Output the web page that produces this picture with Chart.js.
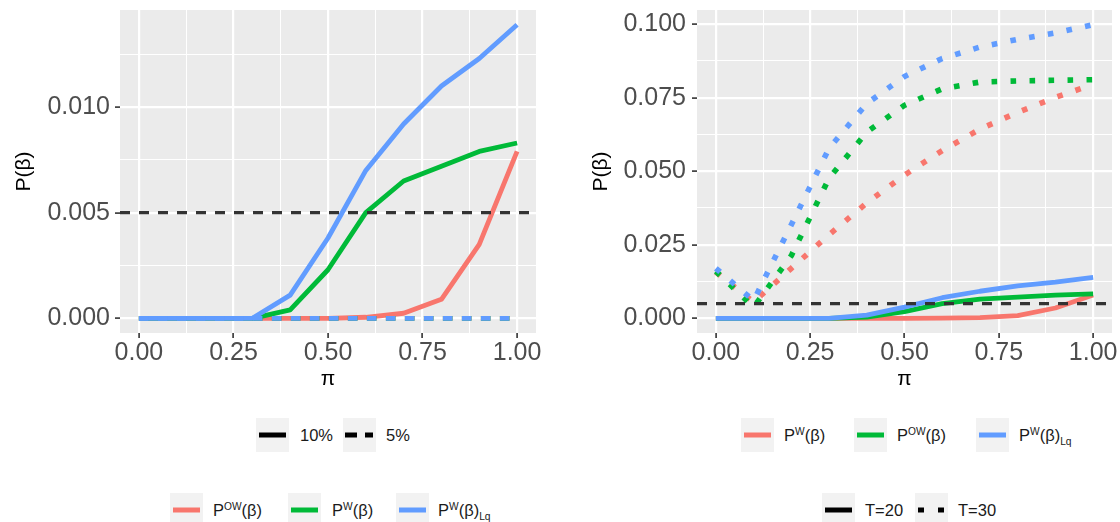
<!DOCTYPE html>
<html>
<head>
<meta charset="utf-8">
<script src="https://cdn.jsdelivr.net/npm/chart.js@4.4.1/dist/chart.umd.min.js"></script>
<style>
  body { margin: 0; background: #fff; width: 1120px; height: 522px; position: relative; overflow: hidden;
         font-family: "Liberation Sans", Arial, sans-serif; }
  canvas { position: absolute; top: 0; }
  #left { left: 0; }
  #right { left: 560px; }
  .key { position: absolute; width: 33px; height: 34px; background: #f2f2f2; }
  .key svg { display: block; }
  .lab { position: absolute; font-size: 16.5px; line-height: 20px; color: #1a1a1a; white-space: nowrap;
         transform: translateY(-50%); }
  .lab sup { font-size: 0.62em; vertical-align: 0.55em; line-height: 0; }
  .lab sub { font-size: 0.62em; vertical-align: -0.4em; line-height: 0; }
</style>
</head>
<body>
<canvas id="left" width="560" height="400"></canvas>
<canvas id="right" width="560" height="400"></canvas>
<div id="legends"></div>
<script>
// proportion of contamination
const pi = [0, 0.1, 0.2, 0.3, 0.4, 0.5, 0.6, 0.7, 0.8, 0.9, 1.0];

// left panel: nominal level 10% (solid) and 5% (dashed)
const pOW10  = [0, 0, 0, 0, 0, 0, 0.00005, 0.00024, 0.0009, 0.0035, 0.0079];
const pW10   = [0, 0, 0, 0, 0.0004, 0.0023, 0.0050, 0.0065, 0.0072, 0.0079, 0.0083];
const pWLq10 = [0, 0, 0, 0, 0.0011, 0.0038, 0.0070, 0.0092, 0.0110, 0.0123, 0.0139];
const pOW5   = [0, 0, 0, 0, 0, 0, 0, 0, 0, 0, 0];
const pW5    = [0, 0, 0, 0, 0, 0, 0, 0, 0, 0, 0];
const pWLq5  = [0, 0, 0, 0, 0, 0, 0, 0, 0, 0, 0];

// right panel: T=20 (solid) and T=30 (dotted)
const pW20   = [0, 0, 0, 0, 0, 0, 0.00005, 0.00024, 0.0009, 0.0035, 0.0079];
const pOW20  = [0, 0, 0, 0, 0.0004, 0.0023, 0.0050, 0.0065, 0.0072, 0.0079, 0.0083];
const pWLq20 = [0, 0, 0, 0, 0.0011, 0.0038, 0.0070, 0.0092, 0.0110, 0.0123, 0.0139];
const pW30   = [0.0157, 0.0055, 0.0170, 0.0284, 0.0392, 0.0487, 0.0570, 0.0643, 0.0700, 0.0751, 0.0795];
const pOW30  = [0.0160, 0.0038, 0.0213, 0.0476, 0.0633, 0.0724, 0.0780, 0.0803, 0.0807, 0.0809, 0.0811];
const pWLq30 = [0.0170, 0.0060, 0.0318, 0.0578, 0.0730, 0.0822, 0.0883, 0.0922, 0.0948, 0.0970, 0.0998];

const cutoff = 0.005;

// axis breaks
const xBreaks = [0, 0.25, 0.5, 0.75, 1];
const yBreaksLeft = [0, 0.005, 0.010];
const yBreaksRight = [0, 0.025, 0.050, 0.075, 0.100];

const RED = '#F8766D', GREEN = '#00BA38', BLUE = '#619CFF';

Chart.defaults.font.family = '"Liberation Sans", Arial, sans-serif';

// ggplot-style 5% expansion
function expand(lo, hi) {
  const d = (hi - lo) * 0.05;
  return [lo - d, hi + d];
}

// major breaks plus minor lines halfway between them
function gridTicks(breaks, lo, hi) {
  const half = (breaks[1] - breaks[0]) / 2;
  const ticks = [];
  for (let k = -1; ; k++) {
    const v = +(breaks[0] + k * half).toFixed(6);
    if (v > hi) break;
    if (v >= lo) ticks.push({ value: v, minor: k % 2 !== 0 });
  }
  return ticks;
}

const grid = {
  color: '#ffffff',
  lineWidth: c => (c.tick && c.tick.minor ? 1 : 2.2),
  drawTicks: true,
  tickLength: 5,
  tickWidth: 1.6,
  tickColor: c => (c.tick && c.tick.minor ? 'rgba(0,0,0,0)' : '#333333')
};

const panelBg = {
  id: 'panelBg',
  beforeDraw(chart) {
    const { ctx, chartArea: a } = chart;
    ctx.save();
    ctx.fillStyle = '#ebebeb';
    ctx.fillRect(a.left, a.top, a.right - a.left, a.bottom - a.top);
    ctx.restore();
  }
};

function series(values, color, dash, width) {
  return {
    data: pi.map((x, i) => ({ x, y: values[i] })),
    borderColor: color,
    borderWidth: width || 4.8,
    borderDash: dash || [],
    borderCapStyle: 'butt',
    borderJoinStyle: 'round',
    pointRadius: 0,
    tension: 0
  };
}

function panel(id, layers, yBreaks, ymax, o) {
  const xr = expand(0, 1);
  const yr = expand(0, ymax);
  const hline = {
    data: [{ x: xr[0], y: cutoff }, { x: xr[1], y: cutoff }],
    borderColor: '#333333',
    borderWidth: 3.2,
    borderDash: [10, 9],
    borderCapStyle: 'butt',
    pointRadius: 0
  };
  const datasets = layers.concat([hline]).map((d, i, arr) => Object.assign(d, { order: arr.length - i }));
  const xt = gridTicks(xBreaks, xr[0], xr[1]);
  const yt = gridTicks(yBreaks, yr[0], yr[1]);

  return new Chart(document.getElementById(id), {
    type: 'line',
    data: { datasets },
    options: {
      responsive: false,
      animation: false,
      layout: { padding: { top: 10, right: o.padRight, left: 0, bottom: 0 } },
      plugins: { legend: { display: false }, tooltip: { enabled: false } },
      scales: {
        x: {
          type: 'linear', min: xr[0], max: xr[1],
          afterBuildTicks: s => { s.ticks = xt.map(t => ({ ...t })); },
          afterFit: s => { s.height = 67; s.paddingLeft = 0; s.paddingRight = 0; },
          ticks: {
            autoSkip: false, maxRotation: 0, padding: 0, color: '#4d4d4d', font: { size: 25 },
            callback: (v, i, ts) => (ts[i].minor ? '' : v.toFixed(2))
          },
          grid, border: { display: false },
          title: { display: true, text: 'π', color: '#000', font: { size: 21 }, padding: { top: 0, bottom: 8.4 } }
        },
        y: {
          type: 'linear', min: yr[0], max: yr[1],
          afterBuildTicks: s => { s.ticks = yt.map(t => ({ ...t })); },
          afterFit: s => { s.width = o.yWidth; s.paddingTop = 0; s.paddingBottom = 0; },
          ticks: {
            autoSkip: false, padding: o.labelPad, color: '#4d4d4d', font: { size: 25 },
            callback: (v, i, ts) => (ts[i].minor ? '' : v.toFixed(3))
          },
          grid, border: { display: false },
          title: { display: true, text: 'P(β)', color: '#000', font: { size: 21 }, padding: { top: o.titlePad, bottom: 0 } }
        }
      }
    },
    plugins: [panelBg]
  });
}

panel('left', [
  series(pOW10, RED), series(pOW5, RED, [9.5, 9.5]),
  series(pW10, GREEN), series(pW5, GREEN, [9.5, 9.5]),
  series(pWLq10, BLUE), series(pWLq5, BLUE, [9.5, 9.5])
], yBreaksLeft, Math.max(...pWLq10), { padRight: 24, yWidth: 120, titlePad: 11.4, labelPad: 5 });

panel('right', [
  series(pW20, RED), series(pW30, RED, [5.6, 13.4], 5.6),
  series(pOW20, GREEN), series(pOW30, GREEN, [5.6, 13.4], 5.6),
  series(pWLq20, BLUE), series(pWLq30, BLUE, [5.6, 13.4], 5.6)
], yBreaksRight, Math.max(...pWLq30), { padRight: 8, yWidth: 137, titlePad: 28.4, labelPad: 6 });

// legends
const legendBox = document.getElementById('legends');

function key(x, y, color, dash, x1) {
  const d = document.createElement('div');
  d.className = 'key';
  d.style.left = x + 'px';
  d.style.top = y + 'px';
  const da = dash ? ` stroke-dasharray="${dash}"` : '';
  d.innerHTML = `<svg width="33" height="34"><line x1="${x1 || 3}" y1="17" x2="30" y2="17" stroke="${color}" stroke-width="5"${da}/></svg>`;
  legendBox.appendChild(d);
}

function label(x, y, html) {
  const d = document.createElement('div');
  d.className = 'lab';
  d.style.left = x + 'px';
  d.style.top = y + 'px';
  d.innerHTML = html;
  legendBox.appendChild(d);
}

// left: level legend, then estimator legend
key(256, 418, '#000');           label(300, 435, '10%');
key(343, 418, '#000', '12 8', 2); label(386, 435, '5%');
key(170, 493, RED);   label(213, 510, 'P<sup>OW</sup>(β)');
key(288, 493, GREEN); label(332, 510, 'P<sup>W</sup>(β)');
key(396, 493, BLUE);  label(438, 510, 'P<sup>W</sup>(β)<sub>Lq</sub>');

// right: estimator legend, then sample size legend
key(741, 418, RED);   label(784, 435, 'P<sup>W</sup>(β)');
key(854, 418, GREEN); label(897, 435, 'P<sup>OW</sup>(β)');
key(976, 418, BLUE);  label(1019, 435, 'P<sup>W</sup>(β)<sub>Lq</sub>');
key(822, 493, '#000');           label(865, 510, 'T=20');
key(915, 493, '#000', '6 14', 3); label(958, 510, 'T=30');
</script>
</body>
</html>
